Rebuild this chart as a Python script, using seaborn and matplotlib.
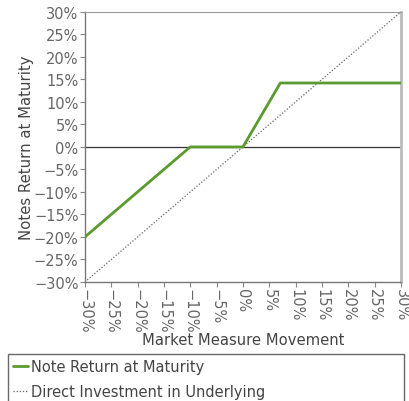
import matplotlib
matplotlib.use('Agg')
import matplotlib.pyplot as plt
from matplotlib.ticker import PercentFormatter
import pandas as pd
import seaborn as sns

# payoff profile (in %)
market = [-30, -10, 0, 7.1, 30]
note_return = [-20, 0, 0, 14.2, 14.2]
direct_x = [-30, 30]
direct_y = [-30, 30]
ticks = list(range(-30, 31, 5))

textcolor = '#444444'
tickcolor = '#666666'

sns.set_style('white')
plt.rcParams['font.family'] = ['DejaVu Sans']

note = pd.DataFrame({'market': market, 'ret': note_return})
direct = pd.DataFrame({'market': direct_x, 'ret': direct_y})

fig, ax = plt.subplots(figsize=(4.1, 4.02), dpi=100)
fig.subplots_adjust(left=0.207, right=0.978, top=0.968, bottom=0.296)

ax.axhline(0, color='#333333', linewidth=0.9, zorder=1)
sns.lineplot(data=note, x='market', y='ret', color='#5a9a2e', linewidth=2,
             label='Note Return at Maturity', sort=False, estimator=None,
             legend=False, ax=ax, zorder=3)
sns.lineplot(data=direct, x='market', y='ret', color='#666666', linewidth=0.9,
             linestyle=(0, (1, 1.5)), label='Direct Investment in Underlying',
             sort=False, estimator=None, legend=False, ax=ax, zorder=2)

ax.set_xlim(-30, 30)
ax.set_ylim(-30, 30)
ax.set_xticks(ticks)
ax.set_yticks(ticks)
ax.xaxis.set_major_formatter(PercentFormatter(decimals=0))
ax.yaxis.set_major_formatter(PercentFormatter(decimals=0))
ax.tick_params(axis='both', direction='out', length=3.6, width=0.8,
               color='#888888', labelcolor=tickcolor, labelsize=10.5, pad=1,
               bottom=True, left=True)
plt.setp(ax.get_xticklabels(), rotation=-90, va='top', ha='center')

for side in ['left', 'bottom']:
    ax.spines[side].set_color('#777777')
    ax.spines[side].set_linewidth(1)
ax.spines['top'].set_color('#999999')
ax.spines['right'].set_color('#bbbbbb')
ax.spines['right'].set_linewidth(2)

ax.set_xlabel('Market Measure Movement', color=textcolor, fontsize=10.6, va='center')
ax.set_ylabel('Notes Return at Maturity', color=textcolor, fontsize=10.7, va='center')
ax.xaxis.set_label_coords(0.5, -0.211)
ax.yaxis.set_label_coords(-0.184, 0.5)

handles, labels = ax.get_legend_handles_labels()
leg = fig.legend(handles, labels, loc='upper left',
                 bbox_to_anchor=(8 / 410, 1 - 355 / 402 - 0.01, 396 / 410, 0.01),
                 mode='expand', borderaxespad=0, frameon=True, fancybox=False,
                 edgecolor='#444444', fontsize=10.5, handlelength=1.0,
                 handletextpad=0.25, borderpad=0.35, labelspacing=0.7)
leg.get_frame().set_linewidth(1)
plt.setp(leg.get_texts(), color=textcolor)

fig.savefig('out.png', dpi=100)
